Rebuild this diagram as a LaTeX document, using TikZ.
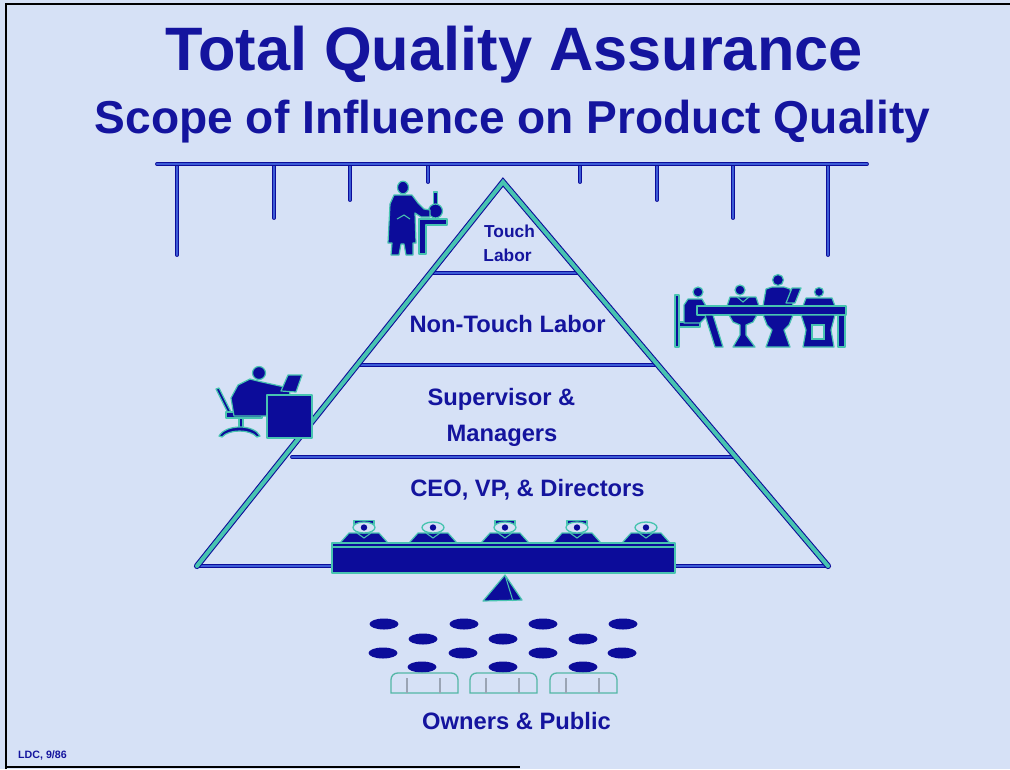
\documentclass[tikz,border=0pt]{standalone}
\usepackage{fontspec}
\setmainfont{Liberation Sans}
\definecolor{paper}{HTML}{D6E1F6}
\definecolor{ink}{HTML}{14149E}
\definecolor{navy}{HTML}{0C0C9A}
\definecolor{aqua}{HTML}{48C4B0}
\definecolor{rail}{HTML}{3C5CD6}
\definecolor{pew}{HTML}{9AA4B4}

\tikzset{
  tq/.style={text=ink, inner sep=0pt, anchor=base},
  rod/.style={draw=navy, line width=0.6pt, double=rail, double distance=1.7pt, line cap=round},
  pyside/.style={draw=navy, line width=0.8pt, double=aqua, double distance=3pt, line cap=round, line join=miter},
  figure/.style={fill=navy, draw=aqua, line width=0.9pt, line join=round},
  bench/.style={draw=aqua!80!gray, line width=1pt},
}

\begin{document}
\begin{tikzpicture}[x=0.75pt,y=-0.75pt]
\useasboundingbox (0,0) rectangle (1010,769);
\fill[paper] (0,0) rectangle (1010,769);
% page frame
\draw[black, line width=1.6pt] (6,769) -- (6,4) -- (1010,4);
\draw[black, line width=1.6pt] (6,767) -- (520,767);

% titles
\node[tq, font=\bfseries\fontsize{46}{50}\selectfont] (title) at (514,70) {Total Quality Assurance};
\node[tq, font=\bfseries\fontsize{34.6}{40}\selectfont] (subtitle) at (512.5,133) {Scope of Influence on Product Quality};

% overhead rail with hangers
\foreach \x/\y in {177/255,274/218,350/200,428/182,580/182,657/200,733/218,828/255}
  \draw[rod] (\x,164) -- (\x,\y);
\draw[rod] (157,164) -- (867,164);

% pyramid tiers and base
\draw[rod] (197,566) -- (828,566);
\draw[rod] (430,273) -- (580,273);
\draw[rod] (357,365) -- (657,365);
\draw[rod] (292,457) -- (735,457);
% pyramid sides
\draw[pyside] (197,566) -- (503,182) -- (828,566);

% tier labels
\node[tq, font=\bfseries\fontsize{13}{15}\selectfont] (touchA) at (509.5,237) {Touch};
\node[tq, font=\bfseries\fontsize{13}{15}\selectfont] (touchB) at (507.5,261) {Labor};
\node[tq, font=\bfseries\fontsize{17.8}{20}\selectfont] (nontouch) at (507.5,332) {Non-Touch Labor};
\node[tq, font=\bfseries\fontsize{17.8}{20}\selectfont] (superA) at (501.5,405) {Supervisor \&};
\node[tq, font=\bfseries\fontsize{17.8}{20}\selectfont] (superB) at (502,441) {Managers};
\node[tq, font=\bfseries\fontsize{17.8}{20}\selectfont] (ceo) at (527.5,496) {CEO, VP, \& Directors};
\node[tq, font=\bfseries\fontsize{17.8}{20}\selectfont] (owners) at (516.5,729) {Owners \& Public};
\node[tq, font=\bfseries\fontsize{8}{9}\selectfont] (stamp) at (42.5,758) {LDC, 9/86};

% worker at the lab stand
\path[figure] (419,219) -- (447,219) -- (447,225) -- (426,225) -- (426,254) -- (419,254) -- cycle;
\path[figure] (433.5,192) rectangle (437.5,206);
\path[figure] (435.5,211) circle [radius=7];
\path[figure] (394,195) -- (412,195) -- (418,203) -- (424,209) -- (430,210) -- (430,217)
  -- (421,217) -- (415,213) -- (416,243) -- (413,243) -- (413,255) -- (406,255) -- (404,244)
  -- (401,244) -- (399,255) -- (391,255) -- (392,243) -- (388,243) -- (390,204) -- cycle;
\draw[aqua, line width=0.8pt] (397,219) -- (404,215) -- (410,219);
\path[figure] (403,187.5) ellipse [x radius=5.5, y radius=6.3];

% clerk at the desk
\path[figure] (216,389) -- (219,388) -- (232,414) -- (229,415) -- cycle;
\path[figure] (226,412) rectangle (262,418);
\path[figure] (239,418) rectangle (243,428);
\path[figure] (219,436) .. controls (226,424) and (254,424) .. (260,436) -- (257,437)
  .. controls (250,429) and (229,429) .. (222,437) -- cycle;
\path[figure] (250,379) -- (262,382) -- (289,388) -- (290,395) -- (267,396) -- (267,416)
  -- (234,416) -- (231,398) -- (238,385) -- cycle;
\path[figure] (259,373) circle [radius=6.5];
\path[figure] (281,391) -- (288,375) -- (302,375) -- (296,392) -- cycle;
\path[figure] (267,395) rectangle (312,438);

% staff meeting
\path[figure] (675,295) rectangle (679,347);
\path[figure] (679,322) rectangle (700,327);
\path[figure] (688,299) -- (702,299) -- (706,306) -- (708,315) -- (700,323) -- (684,323) -- (684,305) -- cycle;
\path[figure] (698,292) circle [radius=5];
\path[figure] (740,290) circle [radius=5];
\path[figure] (727,306) -- (730,297) -- (756,297) -- (759,306) -- cycle;
\draw[aqua, line width=0.8pt] (737,297) -- (743,302) -- (749,297);
\path[figure] (778,280) circle [radius=5.5];
\path[figure] (763,306) -- (766,289) -- (772,287) -- (784,287) -- (790,289) -- (793,306) -- cycle;
\path[figure] (786,303) -- (792,288) -- (801,288) -- (795,303) -- cycle;
\path[figure] (819,292) circle [radius=4.5];
\path[figure] (803,306) -- (806,298) -- (832,298) -- (835,306) -- cycle;
\path[figure] (697,306) rectangle (846,315);
\path[figure] (705,315) -- (713,315) -- (723,347) -- (715,347) -- cycle;
\path[figure] (729,315) -- (757,315) -- (753,322) -- (746,325) -- (746,335) -- (755,347)
  -- (733,347) -- (740,335) -- (740,325) -- (733,322) -- cycle;
\path[figure] (763,315) -- (793,315) -- (789,325) -- (784,330) -- (790,347) -- (766,347)
  -- (772,330) -- (767,325) -- cycle;
\path[figure] (801,315) -- (835,315) -- (831,330) -- (834,347) -- (803,347) -- (806,330) -- cycle;
\path[draw=aqua, fill=paper, line width=0.8pt] (812,325) rectangle (824,339);
\path[figure] (838,315) rectangle (845,347);

% board of directors on the balance
\foreach \c/\cap in {364/1,433/0,505/1,577/1,646/0} {
  \path[figure] (\c-24,543) -- (\c-15,533) -- (\c+15,533) -- (\c+24,543) -- cycle;
  \draw[aqua, line width=0.8pt] (\c-7,533) -- (\c,538) -- (\c+7,533);
  \ifnum\cap=1 \path[figure] (\c-10,520.5) rectangle (\c+10,524.5); \fi
  \path[draw=aqua, fill=paper, line width=1pt] (\c,527.5) ellipse [x radius=11, y radius=5.5];
  \fill[navy] (\c,527.5) circle [radius=3.2];
}
\path[figure] (332,543) rectangle (675,573);
\draw[aqua, line width=0.9pt] (332,547) -- (675,547);
\path[figure] (483,601) -- (505,575) -- (522,600) -- cycle;
\draw[aqua, line width=0.8pt] (505,575) -- (513,601);

% the public
\foreach \x/\y in {384/624,464/624,543/624,623/624,423/639,503/639,583/639,
                   383/653,463/653,543/653,622/653,422/667,503/667,583/667}
  \fill[navy] (\x,\y) ellipse [x radius=14.5, y radius=5.5];
\foreach \x in {391,470,550} {
  \draw[bench, rounded corners=5] (\x,693) -- (\x,673) -- (\x+67,673) [sharp corners] -- (\x+67,693) -- cycle;
  \draw[pew, line width=1pt] (\x+16,678) -- (\x+16,693) (\x+49,678) -- (\x+49,693);
}
\end{tikzpicture}
\end{document}
